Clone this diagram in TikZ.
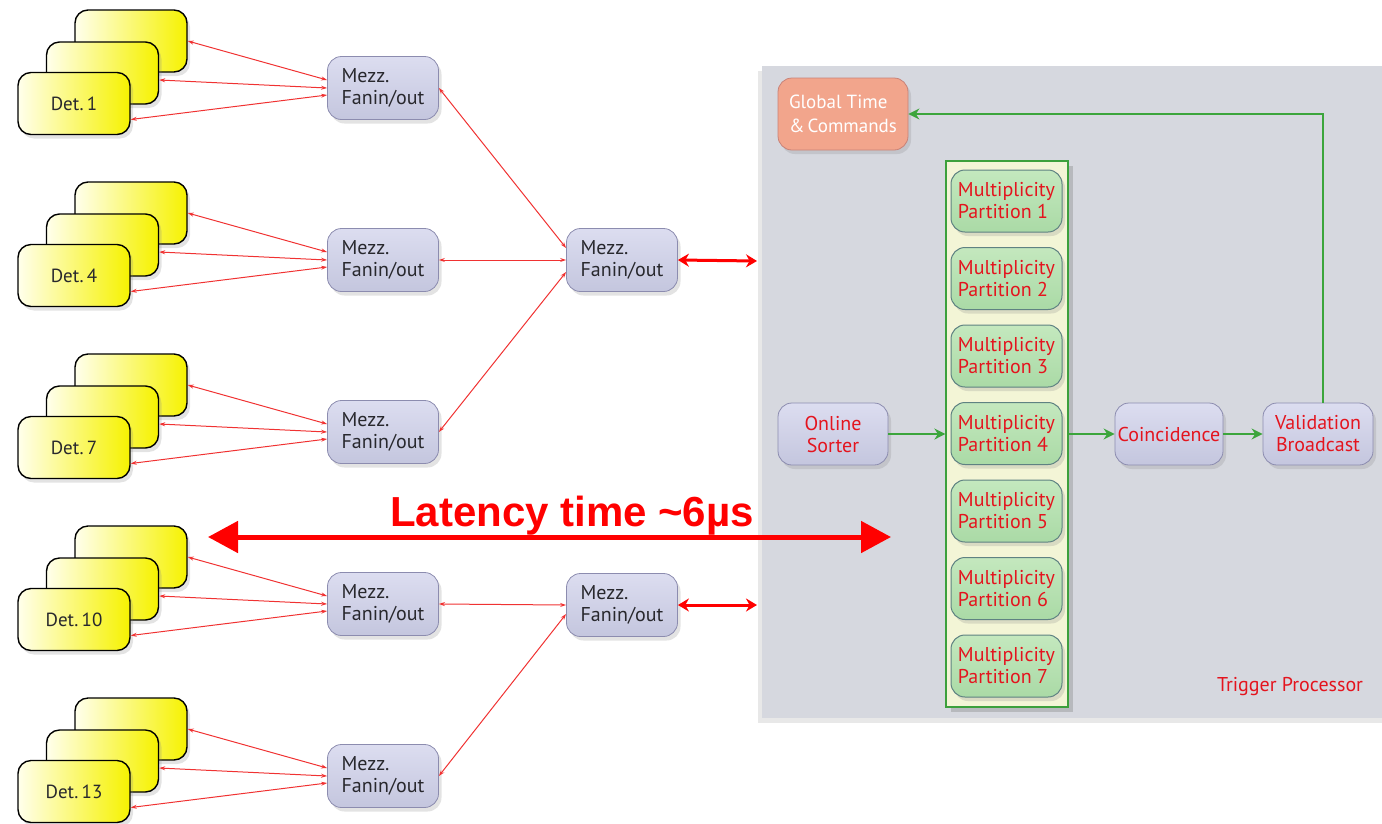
\documentclass[tikz,border=0pt]{standalone}
\usepackage{fontspec}
\setmainfont{PT Sans}
\newfontfamily\bannerfont{Liberation Sans}
\usetikzlibrary{arrows.meta,shadows}

\definecolor{detYellow}{RGB}{246,242,0}
\definecolor{detPale}{RGB}{255,255,236}
\definecolor{mezzTop}{RGB}{220,221,240}
\definecolor{mezzBot}{RGB}{196,198,222}
\definecolor{mezzEdge}{RGB}{140,140,175}
\definecolor{panelGray}{RGB}{214,216,223}
\definecolor{multTop}{RGB}{196,232,190}
\definecolor{multBot}{RGB}{170,218,166}
\definecolor{multEdge}{RGB}{95,130,130}
\definecolor{colFill}{RGB}{243,245,214}
\definecolor{colEdge}{RGB}{60,160,60}
\definecolor{flowGreen}{RGB}{60,165,60}
\definecolor{linkRed}{RGB}{240,50,50}
\definecolor{txtRed}{RGB}{228,20,30}
\definecolor{txtDark}{RGB}{40,40,45}
\definecolor{salmon}{RGB}{242,165,140}
\definecolor{salmonEdge}{RGB}{200,130,120}

\tikzset{
  softshadow/.style={drop shadow={opacity=0.22, shadow xshift=3pt, shadow yshift=-4pt}},
  detbox/.style={draw=black, line width=1.4pt, rounded corners=13pt,
    minimum width=112pt, minimum height=62pt,
    left color=detPale, right color=detYellow, text=txtDark,
    font=\fontsize{19}{22}\selectfont, softshadow},
  mezzbox/.style={draw=mezzEdge, line width=0.8pt, rounded corners=14pt,
    minimum width=111pt, minimum height=63pt, inner sep=2pt,
    top color=mezzTop, bottom color=mezzBot, text=txtDark,
    align=left, font=\fontsize{20}{22}\selectfont, softshadow},
  procbox/.style={draw=mezzEdge, line width=0.8pt, rounded corners=14pt,
    minimum width=110pt, minimum height=62pt, inner sep=2pt,
    top color=mezzTop, bottom color=mezzBot, text=txtRed,
    align=center, font=\fontsize{20}{22}\selectfont, softshadow},
  multbox/.style={draw=multEdge, line width=1pt, rounded corners=14pt,
    minimum width=111pt, minimum height=62pt, inner sep=2pt,
    top color=multTop, bottom color=multBot, text=txtRed,
    align=left, font=\fontsize{20}{22}\selectfont, softshadow},
  link/.style={draw=linkRed, line width=1pt,
    {Stealth[length=6pt,width=4pt]}-{Stealth[length=6pt,width=4pt]}},
  biglink/.style={draw=red, line width=3pt,
    {Stealth[length=11pt,width=13pt]}-{Stealth[length=11pt,width=13pt]}},
  flow/.style={draw=flowGreen, line width=2.8pt, -{Stealth[length=11pt,width=11pt]}},
}

\begin{document}
\begin{tikzpicture}[x=1pt,y=-1pt]
\useasboundingbox (0,0) rectangle (1382,823);

% trigger processor panel
\node[fill=panelGray, minimum width=640pt, minimum height=652pt, inner sep=0pt,
      drop shadow={opacity=0.18, shadow xshift=-4pt, shadow yshift=-5pt}]
  (tp) at (1082,392) {};
\node[text=txtRed, font=\fontsize{20}{22}\selectfont] (tplabel) at (1290,687) {Trigger Processor};

% detector stacks and first-level fan-in/out modules
\foreach \k/\lab in {0/1,1/4,2/7,3/10,4/13} {
  \pgfmathsetmacro\dy{172*\k}
  \node[detbox] (back\k) at (131,41+\dy) {};
  \node[detbox] (mid\k) at (102.5,73+\dy) {};
  \node[detbox] (front\k) at (74,103.5+\dy) {Det.\,\lab};
  \node[mezzbox] (fan\k) at (383,88+\dy) {Mezz.\\Fanin/out};
  \draw[link] ([yshift=8pt]fan\k.west) -- (back\k.east);
  \draw[link] ([yshift=0pt]fan\k.west) -- ([yshift=-7pt]mid\k.east);
  \draw[link] ([yshift=-7pt]fan\k.west) -- ([yshift=-16pt]front\k.east);
}

% second-level fan-in/out modules
\node[mezzbox] (hubA) at (622,260) {Mezz.\\Fanin/out};
\node[mezzbox] (hubB) at (622,605) {Mezz.\\Fanin/out};
\draw[link] (fan0.east) -- ([yshift=12pt]hubA.west);
\draw[link] (fan1.east) -- (hubA.west);
\draw[link] (fan2.east) -- ([yshift=-12pt]hubA.west);
\draw[link] (fan3.east) -- (hubB.west);
\draw[link] (fan4.east) -- ([yshift=-9pt]hubB.west);

\coordinate (inA) at (757,261);
\coordinate (inB) at (757,605);
\draw[biglink] (hubA.east) -- (inA);
\draw[biglink] (hubB.east) -- (inB);

% trigger processor blocks
\node[draw=salmonEdge, line width=0.8pt, rounded corners=14pt, fill=salmon,
      minimum width=130pt, minimum height=72pt, inner sep=2pt, text=white, align=left,
      font=\fontsize{19}{24}\selectfont, softshadow] (gtc) at (843,114)
  {Global Time\\\&\,Commands};

\node[draw=colEdge, line width=1.2pt, fill=colFill, minimum width=122pt,
      minimum height=546pt, inner sep=0pt,
      drop shadow={opacity=0.35, shadow xshift=5pt, shadow yshift=-5pt}] (col) at (1007,434) {};
\foreach \i in {1,...,7} {
  \node[multbox] (p\i) at (1006.5,123.5+77.5*\i) {Multiplicity\\Partition \i};
}

\node[procbox] (sorter) at (833,434) {Online\\Sorter};
\node[procbox, minimum width=108pt] (coin) at (1169,434) {Coincidence};
\node[procbox] (valid) at (1318,434) {Validation\\Broadcast};

\draw[flow] (sorter.east) -- (col.west);
\draw[flow] (col.east) -- (coin.west);
\draw[flow] (coin.east) -- (valid.west);
\draw[flow] ([xshift=5pt]valid.north) |- (gtc.east);

% latency span
\coordinate (latL) at (208,537);
\coordinate (latR) at (891,537);
\draw[draw=red, line width=5pt,
      {Triangle[length=30pt,width=31pt]}-{Triangle[length=30pt,width=31pt]}] (latL) -- (latR);
\node[text=red, font=\bannerfont\bfseries\fontsize{42}{46}\selectfont] (lat) at (572,516)
  {Latency time \textasciitilde6\textmu s};
\end{tikzpicture}
\end{document}
